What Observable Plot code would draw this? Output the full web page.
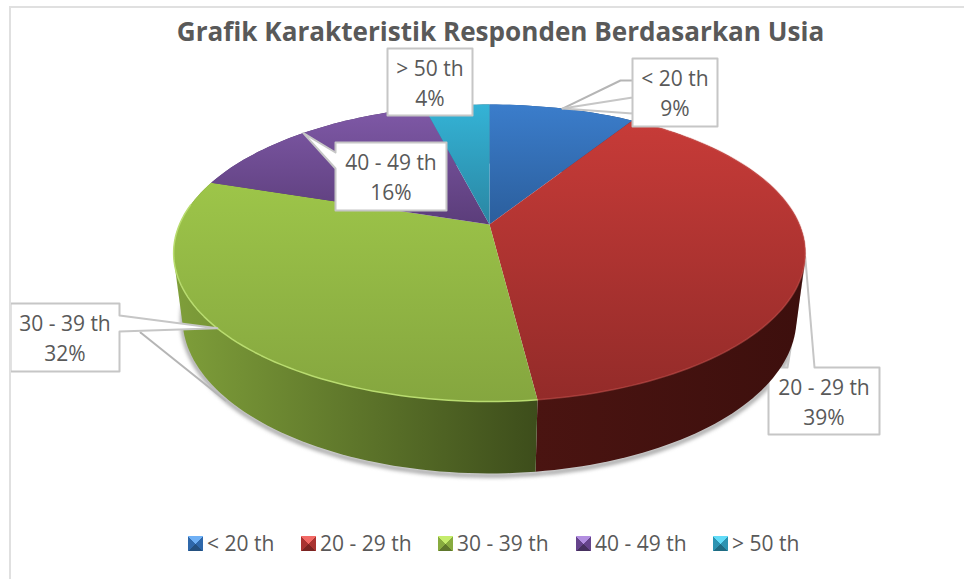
<!DOCTYPE html>
<html>
<head>
<meta charset="utf-8">
<script src="https://cdn.jsdelivr.net/npm/d3@7"></script>
<script src="https://cdn.jsdelivr.net/npm/@observablehq/plot@0.6"></script>
<style>
html,body{margin:0;padding:0;background:#fff;}
#frame{position:relative;width:964px;height:579px;overflow:hidden;font-family:"Open Sans",sans-serif;color:#595959;}
#frame:before{content:"";position:absolute;left:9px;top:6px;right:-4px;bottom:-4px;border:2px solid #e0e0e0;pointer-events:none;}
#title{height:46px;text-align:center;font-weight:700;font-size:26.1px;line-height:63px;margin-left:37px;white-space:nowrap;position:relative;}
#chart svg{display:block;overflow:visible;}
#legend{position:absolute;left:0;top:530px;height:28px;font-size:21px;line-height:27px;width:964px;}
.item{position:absolute;top:0;white-space:nowrap;}
.sw{position:absolute;top:6px;left:0;width:15px;height:15px;}
.item span{margin-left:19px;}
</style>
</head>
<body>
<div id="frame">
  <div id="title"></div>
  <div id="chart"></div>
  <div id="legend"></div>
</div>
<script>
const chartTitle = "Grafik Karakteristik Responden Berdasarkan Usia";
const categories = ["< 20 th", "20 - 29 th", "30 - 39 th", "40 - 49 th", "> 50 th"];
const shares = [9, 39, 32, 16, 4];

const topLight  = ["#3b7dcb", "#c73b38", "#9dc549", "#7f59a7", "#34b3d6"];
const topDark   = ["#2b5e9c", "#932b29", "#85a63f", "#5b3d7a", "#2a86a2"];
const wallLight = ["#2b5e9c", "#4a1411", "#7f9f3a", "#5b3d7a", "#2a86a2"];
const wallDark  = ["#1d3f69", "#3d0f0d", "#3d4d1b", "#3d2952", "#1c5a6d"];
const swatchTop = ["#6fb0f5", "#f26a66", "#c5ec6c", "#b28ee0", "#62dcf8"];
const swatchMid = ["#2f68aa", "#a93331", "#88ab3f", "#66448c", "#2c93b1"];
const swatchLow = ["#24507f", "#7a2422", "#5f772c", "#46305f", "#1f6b82"];

// Callout boxes [left, top, right, bottom] and the side their pointer leaves from
const boxes = [[632,58,717,126],[768,367,879,434],[10,303,119,371],[335,142,446,210],[387,48,472,115]];
const bases = [[[632,97],[632,113]],[[814,367],[787,367]],[[119,331],[119,315]],[[335,168],[335,152]],null];
const legendLeft = [188,301,438,576,713];

// Oblique view of the disc: top plane and bottom plane
const topPlane = {cx:489, cy:224, R:310, a:143, c:-0.192};
const botPlane = {cx:489, cy:290, R:302, a:150, c:-0.18};
const project = (pl, deg) => {
  const t = deg*Math.PI/180, u = Math.sin(t), v = -Math.cos(t), d = 1+pl.c*v;
  return {x: pl.cx+pl.R*u/d, y: pl.cy+pl.a*v/d};
};
const total = d3.sum(shares);
let acc = 0;
const slices = shares.map((s,i)=>{const a0=acc/total*360; acc+=s; return {i,a0,a1:acc/total*360,mid:(a0+acc/total*360)/2};});
const arc = (pl,a0,a1)=>{const n=Math.max(2,Math.ceil((a1-a0)/1.5));return d3.range(n+1).map(k=>project(pl,a0+(a1-a0)*k/n));};
const topFace = s=>[{x:topPlane.cx,y:topPlane.cy},...arc(topPlane,s.a0,s.a1)];
const wall = s=>d3.polygonHull([...arc(topPlane,s.a0,s.a1),...arc(botPlane,s.a0,s.a1)].map(p=>[p.x,p.y])).map(([x,y])=>({x,y}));

const outline = i=>{
  const [l,t,r,b]=boxes[i], base=bases[i], tip=project(topPlane,slices[i].mid);
  if(!base) return [{x:l,y:t},{x:r,y:t},{x:r,y:b},{x:l,y:b}];
  const [p,q]=base, P={x:p[0],y:p[1]}, Q={x:q[0],y:q[1]};
  if(p[1]===t) return [{x:l,y:t},Q,tip,P,{x:r,y:t},{x:r,y:b},{x:l,y:b}];
  if(p[0]===l) return [{x:l,y:t},{x:r,y:t},{x:r,y:b},{x:l,y:b},P,tip,Q];
  if(p[0]===r) return [{x:l,y:t},{x:r,y:t},Q,tip,P,{x:r,y:b},{x:l,y:b}];
  return [{x:l,y:t},{x:r,y:t},{x:r,y:b},{x:l,y:b}];
};
const callout = i=>Plot.line(outline(i),{x:"x",y:"y",curve:"linear-closed",fill:"#fff",stroke:"#c6c6c6",strokeWidth:2});

const defs = ()=>{
  const d=d3.create("svg:defs");
  const grad=(id,dir,c0,c1)=>{
    const g=d.append("linearGradient").attr("id",id).attr("x1",0).attr("y1",0).attr("x2",dir?1:0).attr("y2",dir?0:1);
    g.append("stop").attr("offset",0).attr("stop-color",c0);
    g.append("stop").attr("offset",1).attr("stop-color",c1);
  };
  categories.forEach((_,i)=>{grad("t"+i,false,topLight[i],topDark[i]);grad("w"+i,true,wallLight[i],wallDark[i]);});
  return d.node();
};

const shadowArc = arc(botPlane,110,270);
const up20 = project(topPlane,slices[0].mid);
const up20Elbow = [{x:up20.x,y:up20.y},{x:620,y:80},{x:632,y:80}];

const plot = Plot.plot({
  width:964, height:474, margin:0,
  x:{domain:[0,964],range:[0,964],axis:null},
  y:{domain:[46,520],range:[0,474],axis:null},
  marks:[
    defs,
    Plot.line(shadowArc,{x:"x",y:d=>d.y+2,stroke:"#7a7a7a",strokeWidth:3,imageFilter:"blur(2px)"}),
    Plot.line([{x:140,y:332},{x:225,y:400}],{x:"x",y:"y",stroke:"#b5b5b5",strokeWidth:2}),
    callout(1),
    ...slices.map(s=>Plot.line(wall(s),{x:"x",y:"y",curve:"linear-closed",fill:`url(#w${s.i})`})),
    ...slices.map(s=>Plot.line(topFace(s),{x:"x",y:"y",curve:"linear-closed",fill:`url(#t${s.i})`})),
    Plot.line(arc(topPlane,slices[1].a1,slices[2].a1-10),{x:"x",y:"y",stroke:"#b9dc70",strokeWidth:1.5}),
    Plot.line(arc(topPlane,slices[1].a0,slices[1].a1),{x:"x",y:"y",stroke:"#d9605c",strokeOpacity:.45,strokeWidth:1.5}),
    Plot.line(up20Elbow,{x:"x",y:"y",stroke:"#b5b5b5",strokeWidth:2}),
    callout(0),callout(2),callout(3),callout(4),
    Plot.text(slices,{
      x:s=>(boxes[s.i][0]+boxes[s.i][2])/2,
      y:s=>(boxes[s.i][1]+boxes[s.i][3])/2-1,
      text:s=>categories[s.i]+"\n"+shares[s.i]+"%",
      fontSize:21, lineHeight:1.43, fill:"#595959", fontFamily:"Open Sans"
    })
  ]
});
document.getElementById("chart").append(plot);
document.getElementById("title").textContent = chartTitle;
const lg=document.getElementById("legend");
categories.forEach((c,i)=>{
  const it=document.createElement("div");it.className="item";it.style.left=legendLeft[i]+"px";
  const sw=document.createElement("div");sw.className="sw";
  sw.style.background=`conic-gradient(from -45deg, ${swatchTop[i]} 0 90deg, ${swatchMid[i]} 90deg 180deg, ${swatchLow[i]} 180deg 270deg, ${swatchMid[i]} 270deg 360deg)`;
  const t=document.createElement("span");t.textContent=c;
  it.append(sw,t);lg.append(it);
});
</script>
</body>
</html>
